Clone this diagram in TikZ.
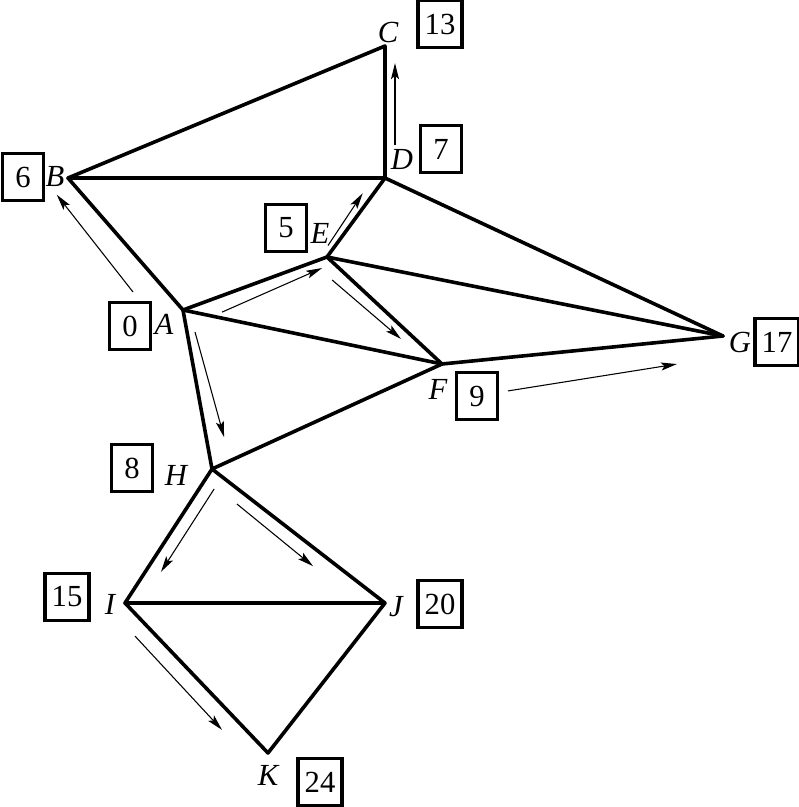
\documentclass[tikz,border=0pt]{standalone}
\usepackage{fontspec}
\setmainfont{Liberation Serif}
\usetikzlibrary{arrows.meta,calc}

% arrow drawn beside an edge: from, to, start, end, offset at start, offset at end
\newcommand{\flowarrow}[6]{%
  \draw[flow] ($(#1)!#3!(#2)!#5!90:(#2)$) -- ($(#1)!#4!(#2)!#6!90:(#2)$);}

\begin{document}
\begin{tikzpicture}[
      x=0.75pt, y=-0.75pt,
      font=\fontsize{23}{27}\selectfont,
      edge/.style={line width=2.7pt, line cap=round, line join=round},
      flow/.style={line width=0.8pt, -{Stealth[length=12pt,width=6pt,inset=2.5pt]}},
      lbl/.style={font=\fontsize{23}{27}\selectfont\itshape, inner sep=0pt},
      num/.style={draw, line width=2.6pt, minimum width=31pt, minimum height=35pt,
                  inner xsep=5pt, inner ysep=0pt}]

    \useasboundingbox (0,0) rectangle (799,807);

    % vertices
    \coordinate (A) at (183,310);
    \coordinate (B) at (68,178);
    \coordinate (C) at (385,46);
    \coordinate (D) at (385,178);
    \coordinate (E) at (327,257);
    \coordinate (F) at (442,364);
    \coordinate (G) at (723,336);
    \coordinate (H) at (212,469);
    \coordinate (I) at (125,603);
    \coordinate (J) at (385,603);
    \coordinate (K) at (268,753);

    % edges
    \draw[edge] (B) -- (C) -- (D) -- (B);
    \draw[edge] (B) -- (A);
    \draw[edge] (D) -- (E);
    \draw[edge] (D) -- (G);
    \draw[edge] (E) -- (G);
    \draw[edge] (A) -- (E) -- (F);
    \draw[edge] (A) -- (F) -- (G);
    \draw[edge] (A) -- (H) -- (F);
    \draw[edge] (H) -- (I) -- (J) -- (H);
    \draw[edge] (I) -- (K) -- (J);

    % vertex letters
    \node[lbl] (la) at (164,324) {A};
    \node[lbl] (lb) at (55,177) {B};
    \node[lbl] (lc) at (388,32) {C};
    \node[lbl] (ld) at (402,159) {D};
    \node[lbl] (le) at (320,233) {E};
    \node[lbl] (lf) at (438,389) {F};
    \node[lbl] (lg) at (740,342) {G};
    \node[lbl] (lh) at (176,475) {H};
    \node[lbl] (li) at (110,604) {I};
    \node[lbl] (lj) at (396,607) {J};
    \node[lbl] (lk) at (268,775) {K};

    % boxed times
    \node[num] (na) at (130,326) {0};
    \node[num] (nb) at (23,177) {6};
    \node[num] (nc) at (440,24) {13};
    \node[num] (nd) at (441,149) {7};
    \node[num] (ne) at (286,228) {5};
    \node[num] (nf) at (477,396) {9};
    \node[num] (ng) at (777,342) {17};
    \node[num] (nh) at (132,468) {8};
    \node[num] (ni) at (67,597) {15};
    \node[num] (nj) at (440,604) {20};
    \node[num] (nk) at (320,782) {24};

    % flow arrows
    \flowarrow{A}{B}{0.265}{0.97}{19.4pt}{14.6pt}
    \flowarrow{D}{C}{0.25}{0.87}{-7.5pt}{-7.5pt}
    \flowarrow{E}{D}{0.1}{0.74}{4.5pt}{6.7pt}
    \flowarrow{A}{E}{0.234}{0.945}{-11.6pt}{-6.5pt}
    \flowarrow{E}{F}{0.124}{0.70}{-10pt}{-7.2pt}
    \flowarrow{A}{H}{0.147}{0.82}{5.9pt}{13.2pt}
    \flowarrow{F}{G}{0.223}{0.828}{-25pt}{-17.5pt}
    \flowarrow{H}{I}{0.098}{0.714}{9.5pt}{9.9pt}
    \flowarrow{H}{J}{0.188}{0.637}{-9.3pt}{-11.2pt}
    \flowarrow{I}{K}{0.149}{0.766}{-11.7pt}{-13pt}
  \end{tikzpicture}
\end{document}
